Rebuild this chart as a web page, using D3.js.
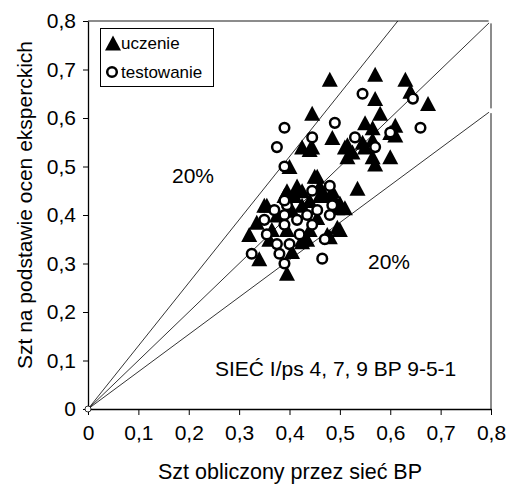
<!DOCTYPE html>
<html>
<head>
<meta charset="utf-8">
<script src="https://cdn.jsdelivr.net/npm/d3@7"></script>
<style>
  body { margin: 0; background: #fff; }
  svg text { font-family: Arial, "Liberation Sans", sans-serif; fill: #000; }
</style>
</head>
<body>
<div class="chart"></div>
<script>
// uczenie (triangles): [x, y]
var uczenie = [
  [0.48,0.68],[0.57,0.69],[0.63,0.68],[0.675,0.63],[0.57,0.64],[0.64,0.655],[0.58,0.61],
  [0.445,0.61],[0.55,0.59],[0.565,0.58],[0.61,0.585],[0.60,0.57],[0.61,0.565],[0.485,0.56],
  [0.565,0.555],[0.545,0.55],[0.515,0.545],[0.525,0.53],[0.515,0.52],[0.565,0.52],[0.60,0.52],
  [0.57,0.505],[0.55,0.54],[0.535,0.455],[0.425,0.54],[0.445,0.54],[0.44,0.535],[0.51,0.54],
  [0.40,0.50],[0.455,0.48],[0.415,0.46],[0.395,0.45],[0.46,0.46],[0.485,0.45],[0.45,0.48],
  [0.425,0.45],[0.50,0.425],[0.51,0.415],[0.46,0.44],[0.485,0.44],[0.355,0.42],[0.39,0.44],
  [0.41,0.44],[0.44,0.43],[0.47,0.44],[0.35,0.42],[0.375,0.40],[0.405,0.41],[0.425,0.42],
  [0.455,0.395],[0.495,0.415],[0.335,0.385],[0.365,0.37],[0.395,0.37],[0.44,0.37],[0.32,0.36],
  [0.36,0.35],[0.425,0.345],[0.435,0.35],[0.48,0.355],[0.50,0.37],[0.495,0.375],[0.475,0.36],
  [0.405,0.325],[0.34,0.31],[0.395,0.28],[0.425,0.35]
];

// testowanie (circles): [x, y]
var testowanie = [
  [0.545,0.65],[0.645,0.64],[0.39,0.58],[0.49,0.59],[0.66,0.58],[0.60,0.57],[0.445,0.56],
  [0.53,0.56],[0.375,0.54],[0.57,0.54],[0.39,0.50],[0.48,0.46],[0.445,0.45],[0.37,0.41],
  [0.395,0.42],[0.35,0.39],[0.39,0.40],[0.435,0.40],[0.455,0.41],[0.485,0.42],[0.48,0.40],
  [0.415,0.39],[0.39,0.38],[0.445,0.38],[0.355,0.36],[0.42,0.36],[0.47,0.35],[0.375,0.34],
  [0.40,0.34],[0.325,0.32],[0.38,0.32],[0.39,0.30],[0.465,0.31],[0.39,0.43]
];

// reference lines from the origin (+20%, 1:1, -20%)
var refLines = [
  [[0,0],[0.615,0.8]],
  [[0,0],[0.8,0.8]],
  [[0,0],[0.8,0.615]]
];

var xTicks = [0,0.1,0.2,0.3,0.4,0.5,0.6,0.7,0.8];
var yTicks = [0,0.1,0.2,0.3,0.4,0.5,0.6,0.7,0.8];

var w = 507, h = 488;
var pLeft = 88, pRight = 491, pTop = 21, pBottom = 409;

var x = d3.scaleLinear().domain([0,0.8]).range([pLeft,pRight]);
var y = d3.scaleLinear().domain([0,0.8]).range([pBottom,pTop]);
var fmt = function(d) { return d === 0 ? "0" : d.toFixed(1).replace(".", ","); };

var svg = d3.select(".chart").append("svg")
  .attr("width", w)
  .attr("height", h);

// gray frame top / right
svg.append("path")
  .attr("d", "M" + pLeft + "," + pTop + "H" + pRight + "V" + pBottom)
  .attr("fill", "none")
  .attr("stroke", "#8c8c8c")
  .attr("stroke-width", 2);

// axes
var xAxis = svg.append("g")
  .attr("transform", "translate(0," + pBottom + ")")
  .call(d3.axisBottom(x).tickValues(xTicks).tickFormat(fmt).tickSize(6).tickPadding(10).tickSizeOuter(0));
var yAxis = svg.append("g")
  .attr("transform", "translate(" + pLeft + ",0)")
  .call(d3.axisLeft(y).tickValues(yTicks).tickFormat(fmt).tickSize(5).tickPadding(7).tickSizeOuter(0));
[xAxis, yAxis].forEach(function(g) {
  g.selectAll("text").attr("font-size", "21px").attr("font-family", "Arial, 'Liberation Sans', sans-serif").attr("fill", "#000");
  g.selectAll("line").attr("stroke", "#000");
  g.select(".domain").attr("stroke", "#000").attr("stroke-width", 1.3);
});

// reference lines
var line = d3.line().x(function(d) { return x(d[0]); }).y(function(d) { return y(d[1]); });
svg.selectAll(".ref")
  .data(refLines)
  .enter()
    .append("path")
    .attr("class", "ref")
    .attr("d", line)
    .attr("fill", "none")
    .attr("stroke", "#000")
    .attr("stroke-width", 0.8);

// white ends of the lines on the frame
svg.selectAll(".refend")
  .data(refLines.slice(1))
  .enter()
    .append("circle")
    .attr("cx", function(d) { return x(d[1][0]); })
    .attr("cy", function(d) { return y(d[1][1]); })
    .attr("r", 2.5)
    .attr("fill", "#fff");
svg.append("circle")
  .attr("cx", x(0)).attr("cy", y(0)).attr("r", 3)
  .attr("fill", "#fff").attr("stroke", "#000").attr("stroke-width", 0.8);

// points (Excel-like triangle, a bit wider than equilateral)
var triType = {
  draw: function(ctx, size) {
    ctx.moveTo(0, -7.5);
    ctx.lineTo(8, 7.5);
    ctx.lineTo(-8, 7.5);
    ctx.closePath();
  }
};
var tri = d3.symbol().type(triType);
svg.selectAll(".tri")
  .data(uczenie)
  .enter()
    .append("path")
    .attr("class", "tri")
    .attr("d", tri)
    .attr("transform", function(d) { return "translate(" + x(d[0]) + "," + y(d[1]) + ")"; })
    .attr("fill", "#000");

svg.selectAll(".circ")
  .data(testowanie)
  .enter()
    .append("circle")
    .attr("class", "circ")
    .attr("cx", function(d) { return x(d[0]); })
    .attr("cy", function(d) { return y(d[1]); })
    .attr("r", 4.8)
    .attr("fill", "#fff")
    .attr("stroke", "#000")
    .attr("stroke-width", 2.5);

// legend
var legend = svg.append("g");
legend.append("rect")
  .attr("x", 100.5).attr("y", 28.5).attr("width", 113).attr("height", 58)
  .attr("fill", "#fff").attr("stroke", "#000").attr("stroke-width", 1);
legend.append("path")
  .attr("d", tri)
  .attr("transform", "translate(113,43)")
  .attr("fill", "#000");
legend.append("text").attr("x", 121).attr("y", 49).attr("font-size", "17px").text("uczenie");
legend.append("circle")
  .attr("cx", 112).attr("cy", 72).attr("r", 4.8)
  .attr("fill", "#fff").attr("stroke", "#000").attr("stroke-width", 2.5);
legend.append("text").attr("x", 121).attr("y", 78).attr("font-size", "17px").text("testowanie");

// annotations
svg.append("text").attr("x", 172).attr("y", 183).attr("font-size", "21px").text("20%");
svg.append("text").attr("x", 368).attr("y", 269).attr("font-size", "21px").text("20%");
svg.append("text").attr("x", 215).attr("y", 376).attr("font-size", "21px").text("SIEĆ I/ps 4, 7, 9 BP 9-5-1");

// axis titles
svg.append("text")
  .attr("x", 290).attr("y", 479)
  .attr("text-anchor", "middle")
  .attr("font-size", "21.5px")
  .text("Szt obliczony przez sieć BP");
svg.append("text")
  .attr("transform", "translate(32,205) rotate(-90)")
  .attr("text-anchor", "middle")
  .attr("font-size", "21px")
  .text("Szt na podstawie ocen eksperckich");
</script>
</body>
</html>
